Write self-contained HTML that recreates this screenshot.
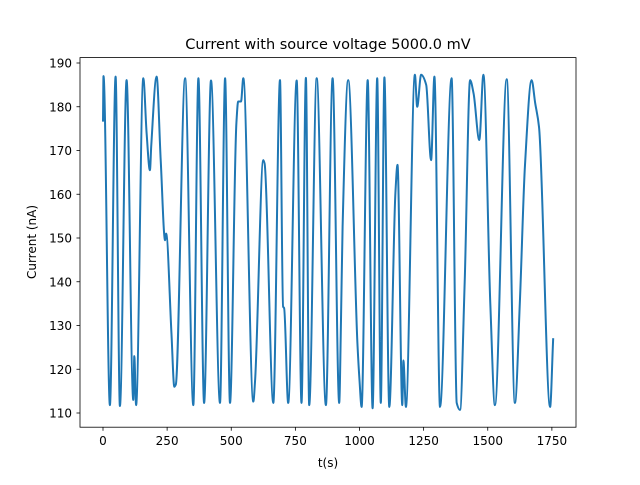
<!DOCTYPE html>
<html><head><meta charset="utf-8"><style>
body{margin:0;background:#fff;}
svg text{font-family:"DejaVu Sans","Liberation Sans",sans-serif;fill:#000;}
</style></head><body>
<svg id="chart" width="640" height="480" viewBox="0 0 640 480" xmlns="http://www.w3.org/2000/svg">
<rect width="640" height="480" fill="#fff"/>
<text x="328" y="49" font-size="14.5" text-anchor="middle">Current with source voltage 5000.0 mV</text>
<g id="plot"></g>
<rect x="80" y="57.6" width="496" height="369.6" fill="none" stroke="#000" stroke-width="0.8"/>
<g id="xticks"></g>
<g id="yticks"></g>
<text x="328" y="467" font-size="12" text-anchor="middle">t(s)</text>
<text transform="translate(36,242) rotate(-90)" font-size="12" text-anchor="middle">Current (nA)</text>
</svg>
<script>
const times = [0,2,27,49,66,92,118,122,129,157,170,183,188,209,225,242,246,267,278,284,320,352,372,394,421,456,476,495,520,527,538,547,586,593,625,630,664,690,702,706,722,755,774,791,804,833,869,895,921,928,934,956,992,1000,1008,1032,1051,1069,1083,1097,1116,1140,1148,1167,1171,1181,1216,1225,1240,1260,1279,1292,1314,1359,1379,1392,1410,1431,1445,1467,1483,1510,1528,1574,1606,1625,1645,1671,1685,1700,1743,1755];
const currents = [176.6,187,111.8,186.9,111.6,186.1,113,123,111.8,186.5,174,165.5,170.9,186.9,167.8,149.5,151,128,116,116.5,186.5,111.8,186.5,112.3,186,112.3,186.5,112.3,176.3,181.2,181.2,186.5,112.6,117.5,167.8,167,112.3,186.1,134.3,134,112.3,186,112.3,186.6,111.8,186.5,111.8,186.5,112.3,131.3,152.6,186.1,126,117.5,111.4,186.1,111.1,186.5,112.3,186.7,111.4,160.3,166.7,111.8,122,111.4,187.3,180,187.3,185,167.8,186.9,111.4,186.5,112.3,110.7,140,186.1,183,172.4,187.3,135,111.8,186.3,112.3,135,166.3,186.1,180.8,175.4,111.4,127.1];
const xTicks = [0,250,500,750,1000,1250,1500,1750];
const yTicks = [110,120,130,140,150,160,170,180,190];
const NS='http://www.w3.org/2000/svg';
const xs = t => 103 + t*0.2565;
const ys = v => 63 + (190 - v)*4.375;
// monotone cubic path (no overshoot), flat tangents at extrema
function monotonePath(X,Y){
  const n=X.length, d=[], m=new Array(n);
  for(let i=0;i<n-1;i++) d.push((Y[i+1]-Y[i])/(X[i+1]-X[i]));
  m[0]=d[0]; m[n-1]=d[n-2];
  for(let i=1;i<n-1;i++){
    if(d[i-1]*d[i]<=0) m[i]=0;
    else { const w1=2*(X[i+1]-X[i])+(X[i]-X[i-1]), w2=(X[i+1]-X[i])+2*(X[i]-X[i-1]); m[i]=(w1+w2)/(w1/d[i-1]+w2/d[i]); }
  }
  let p='M'+X[0].toFixed(1)+','+Y[0].toFixed(1);
  for(let i=0;i<n-1;i++){
    const h=(X[i+1]-X[i])/3;
    p+=' C'+(X[i]+h).toFixed(1)+','+(Y[i]+m[i]*h).toFixed(1)+' '+(X[i+1]-h).toFixed(1)+','+(Y[i+1]-m[i+1]*h).toFixed(1)+' '+X[i+1].toFixed(1)+','+Y[i+1].toFixed(1);
  }
  return p;
}
const plot = document.getElementById('plot');
const line = document.createElementNS(NS,'path');


line.setAttribute('d', monotonePath(times.map(xs), currents.map(ys)));
line.setAttribute('fill','none');line.setAttribute('stroke','#1f77b4');line.setAttribute('stroke-width','2');line.setAttribute('stroke-linejoin','round');
plot.appendChild(line);
const xg=document.getElementById('xticks');
xTicks.forEach(t=>{
  const l=document.createElementNS(NS,'line');
  
  
  l.setAttribute('x1',xs(t));l.setAttribute('x2',xs(t));l.setAttribute('y1',427.2);l.setAttribute('y2',430.7);l.setAttribute('stroke','#000');l.setAttribute('stroke-width','0.8');
  xg.appendChild(l);
  const tx=document.createElementNS(NS,'text');
  
  
  tx.setAttribute('x',xs(t));tx.setAttribute('y',445);tx.setAttribute('font-size','12');tx.setAttribute('text-anchor','middle');
  tx.textContent=t;xg.appendChild(tx);
});
const yg=document.getElementById('yticks');
yTicks.forEach(v=>{
  const l=document.createElementNS(NS,'line');
  
  
  l.setAttribute('x1',76.5);l.setAttribute('x2',80);l.setAttribute('y1',ys(v));l.setAttribute('y2',ys(v));l.setAttribute('stroke','#000');l.setAttribute('stroke-width','0.8');
  yg.appendChild(l);
  const tx=document.createElementNS(NS,'text');
  
  
  tx.setAttribute('x',72);tx.setAttribute('y',ys(v)+4.5);tx.setAttribute('font-size','12');tx.setAttribute('text-anchor','end');
  tx.textContent=v;yg.appendChild(tx);
});
</script>
</body></html>
